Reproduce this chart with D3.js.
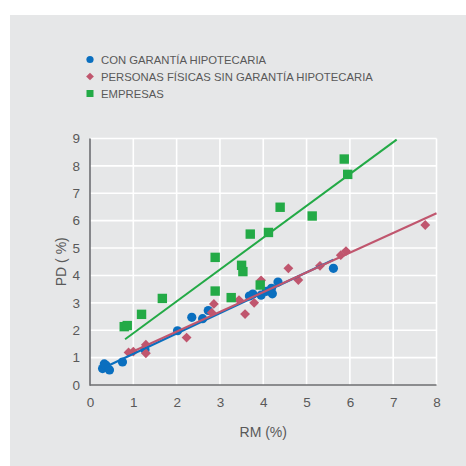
<!DOCTYPE html>
<html><head><meta charset="utf-8">
<script src="https://cdn.jsdelivr.net/npm/d3@7"></script>
<style>
html,body{margin:0;padding:0;background:#fff;}
svg{display:block;}
text{font-family:"Liberation Sans",Arial,Helvetica,sans-serif;fill:#595959;}
</style></head>
<body>
<script>
// Data
const seriesNames = ["CON GARANTÍA HIPOTECARIA", "PERSONAS FÍSICAS SIN GARANTÍA HIPOTECARIA", "EMPRESAS"];
const seriesColors = ["#0a6fbf", "#c0566e", "#23aa46"];
const conGarantia = [[0.29,0.60],[0.33,0.77],[0.37,0.72],[0.45,0.55],[0.75,0.84],[1.27,1.29],[2.02,1.98],[2.35,2.47],[2.60,2.42],[2.73,2.72],[3.68,3.25],[3.76,3.32],[3.95,3.28],[4.07,3.42],[4.19,3.53],[4.21,3.33],[4.34,3.76],[5.62,4.26]];
const personasFisicas = [[0.89,1.19],[1.00,1.22],[1.29,1.47],[1.29,1.16],[2.23,1.73],[2.81,2.64],[2.86,2.96],[3.44,3.10],[3.58,2.59],[3.79,3.00],[3.95,3.82],[4.58,4.26],[4.81,3.83],[5.31,4.35],[5.79,4.74],[5.91,4.89],[7.74,5.84]];
const empresas = [[0.79,2.13],[0.86,2.17],[1.19,2.58],[1.67,3.16],[2.89,4.66],[2.89,3.43],[3.26,3.19],[3.50,4.37],[3.53,4.14],[3.70,5.51],[3.93,3.65],[4.12,5.57],[4.39,6.49],[5.13,6.17],[5.87,8.25],[5.95,7.69]];
// Fitted trend lines (endpoints)
const lineConGarantia = [[0.33,0.64],[5.62,4.57]];
const linePersonas = [[0.89,1.15],[8.0,6.27]];
const lineEmpresas = [[0.81,1.67],[7.08,8.96]];
const xTicks = [0,1,2,3,4,5,6,7,8];
const yTicks = [0,1,2,3,4,5,6,7,8,9];
const xTitle = "RM (%)";
const yTitle = "PD ( %)";

const W = 466, H = 466;
const svg = d3.select("body").append("svg").attr("width", W).attr("height", H);
svg.append("rect").attr("x",10).attr("y",15).attr("width",W-10).attr("height",H-15).attr("fill","#e6e7e8");

const x = d3.scaleLinear().domain([0,8]).range([90,436.5]);
const y = d3.scaleLinear().domain([0,9]).range([385,138.5]);

// grid
const g = svg.append("g");
g.selectAll("line.vg").data(xTicks.filter(d=>d>0)).join("line")
  .attr("x1",d=>x(d)).attr("x2",d=>x(d)).attr("y1",y(0)).attr("y2",y(9))
  .attr("stroke","#fff").attr("stroke-width",1.6);
g.selectAll("line.hg").data(yTicks.filter(d=>d>0)).join("line")
  .attr("x1",x(0)).attr("x2",x(8)).attr("y1",d=>y(d)).attr("y2",d=>y(d))
  .attr("stroke","#fff").attr("stroke-width",1.6);

// axes
const xAxis = d3.axisBottom(x).tickValues(xTicks).tickSize(0).tickPadding(12).tickFormat(d3.format("d"));
const yAxis = d3.axisLeft(y).tickValues(yTicks).tickSize(0).tickPadding(10).tickFormat(d3.format("d"));
const gx = svg.append("g").attr("transform",`translate(0,${y(0)})`).call(xAxis);
const gy = svg.append("g").attr("transform",`translate(${x(0)},0)`).call(yAxis);
[gx,gy].forEach(a=>{
  a.select(".domain").remove();
  a.selectAll("text").attr("font-size",13.5).attr("fill","#595959")
   .attr("font-family","'Liberation Sans',Arial,sans-serif");
});
svg.append("line").attr("x1",x(0)).attr("x2",x(0)).attr("y1",y(9)).attr("y2",y(0)+0.8).attr("stroke","#6d6e71").attr("stroke-width",1.6);
svg.append("line").attr("x1",x(0)).attr("x2",x(8)).attr("y1",y(0)).attr("y2",y(0)).attr("stroke","#6d6e71").attr("stroke-width",1.6);

svg.append("text").attr("x",(x(0)+x(8))/2).attr("y",437).attr("text-anchor","middle").attr("font-size",14).text(xTitle);
svg.append("text").attr("transform",`translate(66,${(y(0)+y(9))/2}) rotate(-90)`).attr("text-anchor","middle").attr("font-size",14).text(yTitle);

// trend lines
const lg = d3.line().x(d=>x(d[0])).y(d=>y(d[1]));
svg.append("path").datum(lineEmpresas).attr("d",lg).attr("fill","none").attr("stroke",seriesColors[2]).attr("stroke-width",2);

// points
const pts = svg.append("g");
pts.selectAll("circle").data(conGarantia).join("circle")
  .attr("cx",d=>x(d[0])).attr("cy",d=>y(d[1])).attr("r",4.6).attr("fill",seriesColors[0]);
pts.selectAll("path.dia").data(personasFisicas).join("path").attr("class","dia")
  .attr("d",d3.symbol().type(d3.symbolDiamond2).size(62))
  .attr("transform",d=>`translate(${x(d[0])},${y(d[1])})`)
  .attr("fill",seriesColors[1]);
svg.append("path").datum(lineConGarantia).attr("d",lg).attr("fill","none").attr("stroke",seriesColors[0]).attr("stroke-width",2.2);
svg.append("path").datum(linePersonas).attr("d",lg).attr("fill","none").attr("stroke",seriesColors[1]).attr("stroke-width",2);
pts.selectAll("rect").data(empresas).join("rect")
  .attr("x",d=>x(d[0])-4.7).attr("y",d=>y(d[1])-4.7).attr("width",9.4).attr("height",9.4).attr("fill",seriesColors[2]);

// legend
const legY = [59.5,76.5,93.5];
const leg = svg.append("g");
leg.append("circle").attr("cx",90).attr("cy",legY[0]).attr("r",3.6).attr("fill",seriesColors[0]);
leg.append("path").attr("d",d3.symbol().type(d3.symbolDiamond2).size(38)).attr("transform",`translate(90,${legY[1]})`).attr("fill",seriesColors[1]);
leg.append("rect").attr("x",86.5).attr("y",legY[2]-3.5).attr("width",7).attr("height",7).attr("fill",seriesColors[2]);
leg.selectAll("text").data(seriesNames).join("text")
  .attr("x",101).attr("y",(d,i)=>legY[i]+4).attr("font-size",11.3).text(d=>d);
</script>
</body></html>
